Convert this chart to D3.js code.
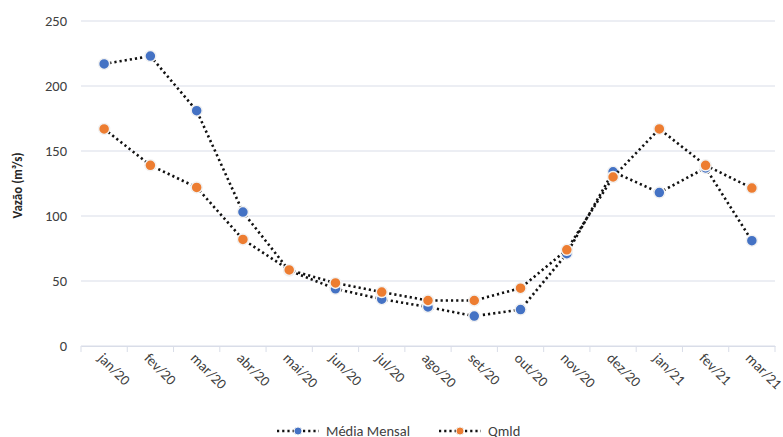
<!DOCTYPE html>
<html>
<head>
<meta charset="utf-8">
<script src="https://cdn.jsdelivr.net/npm/d3@7"></script>
<style>
  body { margin: 0; background: #fff; }
  svg text { font-family: Carlito, Calibri, Lato, "Open Sans", sans-serif; }
  .grid line { stroke: #d9dde8; stroke-width: 1; }
  .serie { fill: none; stroke: #111; stroke-width: 2.6; stroke-dasharray: 2.2 3; stroke-linecap: butt; }
</style>
</head>
<body>
<div id="main"></div>
<script>
const ctx = {
    SVG_W: 783,
    SVG_H: 437,
};

// dados
const meses = ["jan/20", "fev/20", "mar/20", "abr/20", "mai/20", "jun/20", "jul/20", "ago/20",
    "set/20", "out/20", "nov/20", "dez/20", "jan/21", "fev/21", "mar/21"];
const mediaMensal = [217, 223, 181, 103, 58, 44, 36, 30, 23, 28, 71, 134, 118, 137, 81];
const qmld = [167, 139, 122, 82, 58.5, 48.5, 41.5, 35, 35, 44.5, 74, 130, 167, 139, 121.5];
const yTicks = [0, 50, 100, 150, 200, 250];

const series = [
    { nome: "Média Mensal", valores: mediaMensal, cor: "#4472c4" },
    { nome: "Qmld", valores: qmld, cor: "#ed7d31" }
];

function drawChart(svgEl) {
    const left = 81, right = 775, top = 21, bottom = 346;

    let x = d3.scaleBand().domain(meses).range([left, right]);
    let y = d3.scaleLinear().domain([0, 250]).range([bottom, top]);

    // linhas de grade
    svgEl.append("g").attr("class", "grid")
        .selectAll("line")
        .data(yTicks)
        .enter().append("line")
        .attr("x1", left).attr("x2", right)
        .attr("y1", d => y(d)).attr("y2", d => y(d));

    // eixo y
    svgEl.append("g")
        .selectAll("text")
        .data(yTicks)
        .enter().append("text")
        .attr("x", 67)
        .attr("y", d => y(d))
        .attr("dy", "0.35em")
        .attr("text-anchor", "end")
        .style("font-size", "14.5px")
        .style("fill", "#404040")
        .text(d => d);

    svgEl.append("text")
        .attr("transform", "translate(22," + ((top + bottom) / 2 + 2) + ") rotate(-90)")
        .attr("text-anchor", "middle")
        .style("font-size", "13px")
        .style("font-weight", "bold")
        .style("fill", "#262626")
        .text("Vazão (m³/s)");

    // eixo x
    let xAxis = svgEl.append("g")
        .attr("transform", "translate(0," + bottom + ")")
        .call(d3.axisBottom(x).tickSize(6).tickSizeOuter(0));
    xAxis.select(".domain").attr("stroke", "#d9dde8");
    xAxis.selectAll(".tick line")
        .attr("stroke", "#d9dde8")
        .attr("transform", "translate(" + (-x.bandwidth() / 2) + ",0)");
    // tick final na borda direita
    xAxis.append("line")
        .attr("x1", right).attr("x2", right)
        .attr("y1", 0).attr("y2", 6)
        .attr("stroke", "#d9dde8");
    xAxis.selectAll(".tick text")
        .attr("text-anchor", "start")
        .attr("x", 0).attr("y", 0)
        .attr("dy", "0")
        .attr("transform", "translate(-7,13) rotate(45)")
        .style("font-size", "14.5px")
        .style("fill", "#404040")
        .style("font-family", "Carlito, Calibri, Lato, 'Open Sans', sans-serif");

    let line = d3.line()
        .x((d, i) => x(meses[i]) + x.bandwidth() / 2)
        .y(d => y(d));

    series.forEach(s => {
        let g = svgEl.append("g");
        g.append("path")
            .datum(s.valores)
            .attr("class", "serie")
            .attr("d", line);
        g.selectAll("circle")
            .data(s.valores)
            .enter().append("circle")
            .attr("cx", (d, i) => x(meses[i]) + x.bandwidth() / 2)
            .attr("cy", d => y(d))
            .attr("r", 5.5)
            .attr("fill", s.cor)
            .attr("stroke", "#f2f2f2")
            .attr("stroke-width", 1.5);
    });

    // legenda
    const legendX = [277, 439];
    series.forEach((s, i) => {
        let g = svgEl.append("g").attr("transform", "translate(" + legendX[i] + ",431)");
        g.append("line")
            .attr("x1", 0).attr("x2", 42)
            .attr("y1", 0).attr("y2", 0)
            .attr("class", "serie");
        g.append("circle")
            .attr("cx", 21).attr("cy", 0).attr("r", 4)
            .attr("fill", s.cor)
            .attr("stroke", "#f2f2f2")
            .attr("stroke-width", 1);
        g.append("text")
            .attr("x", 49).attr("y", 0).attr("dy", "0.35em")
            .style("font-size", "14.5px")
            .style("fill", "#404040")
            .text(s.nome);
    });
}

function createViz() {
    let svgEl = d3.select("#main").append("svg");
    svgEl.attr("width", ctx.SVG_W);
    svgEl.attr("height", ctx.SVG_H);
    drawChart(svgEl);
}

createViz();
</script>
</body>
</html>
